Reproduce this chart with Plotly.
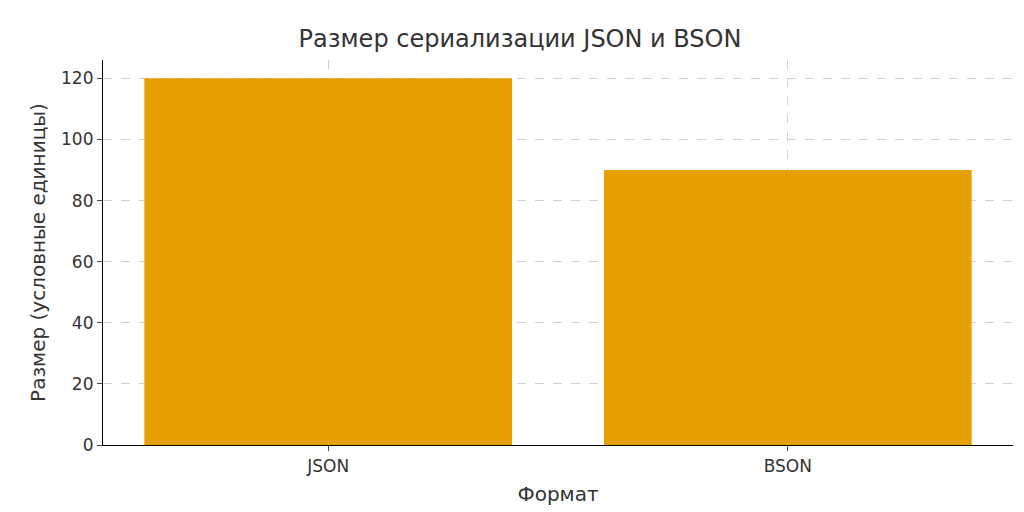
import plotly.graph_objects as go

formats = ["JSON", "BSON"]
sizes = [120, 90]

fig = go.Figure(go.Bar(x=formats, y=sizes, marker_color="#E69F00", width=0.8, marker_line_width=0))
fig.update_layout(
    width=1024, height=512,
    margin=dict(l=95, r=19, t=52, b=75),
    plot_bgcolor="white", paper_bgcolor="white",
    font=dict(family="DejaVu Sans", size=17, color="#333333"),
    title=dict(text="Размер сериализации JSON и BSON", x=0.5, xanchor="center", y=0.94, yanchor="middle",
               font=dict(size=24, color="#333333")),
    showlegend=False,
)
fig.update_xaxes(range=[-0.49, 1.49], showgrid=True, gridcolor="#d0d0d0", griddash="dash",
                 showline=True, linecolor="black", linewidth=1.2, ticks="outside", ticklen=5,
                 title=dict(text="Формат", standoff=12))
fig.update_yaxes(range=[0, 126], dtick=20, showgrid=True, gridcolor="#d0d0d0", griddash="dash",
                 showline=True, linecolor="black", linewidth=1.2, ticks="outside", ticklen=5,
                 zeroline=False, title=dict(text="Размер (условные единицы)", standoff=10))
fig.write_html("out.html")
